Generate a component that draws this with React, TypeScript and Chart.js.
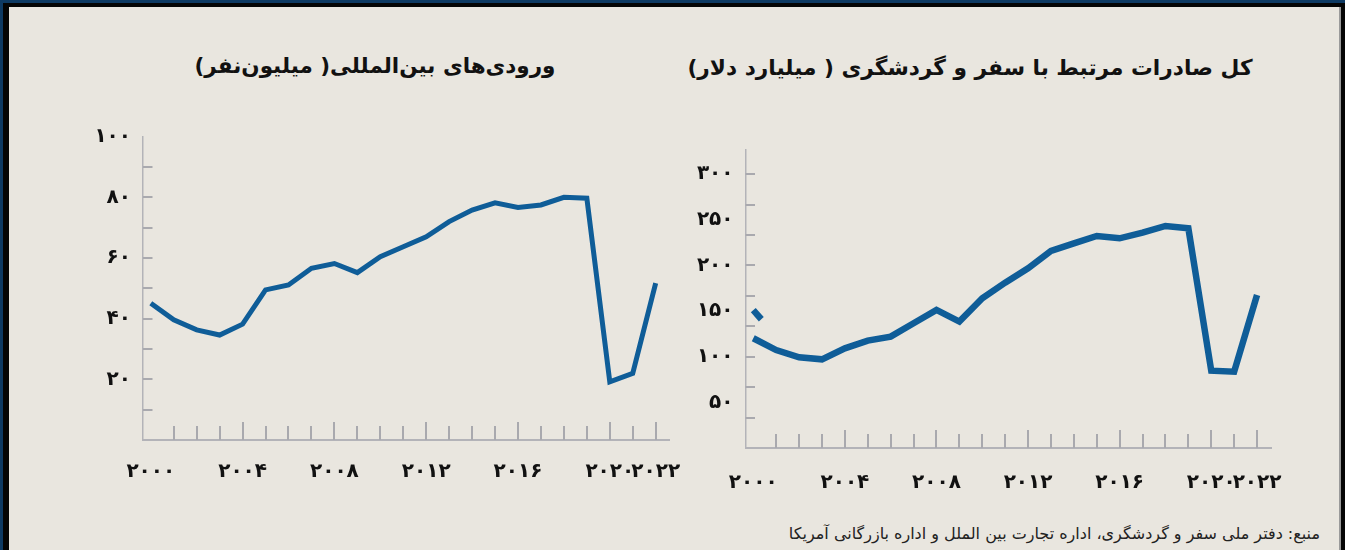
import React, { useEffect, useRef } from "react";
import { Chart, registerables } from "chart.js";

Chart.register(...registerables);

// ---------------- data ----------------
const years = [
  2000, 2001, 2002, 2003, 2004, 2005, 2006, 2007, 2008, 2009, 2010, 2011,
  2012, 2013, 2014, 2015, 2016, 2017, 2018, 2019, 2020, 2021, 2022,
];

// International arrivals (million people)
const arrivalsMillions = [
  45.1, 39.6, 36.3, 34.6, 38.2, 49.5, 51.1, 56.6, 58.2, 55.2, 60.4, 63.7,
  67.0, 72.0, 75.8, 78.2, 76.7, 77.5, 80.0, 79.7, 19.2, 22.0, 51.7,
];

// Total travel & tourism related exports (billion dollars)
const exportsBillions = [
  120.2, 107.3, 99.3, 97.1, 109.2, 117.6, 122.0, 136.6, 151.2, 138.4, 164.0,
  181.1, 196.8, 215.8, 224.2, 232.2, 229.7, 235.8, 243.2, 240.7, 84.7, 83.6,
  167.6,
];

// small stray stroke visible at the start of the exports line
const exportsStrayX = [2000, 2000.35];
const exportsStrayY = [151, 141];

const xLabelYears = [2000, 2004, 2008, 2012, 2016, 2020, 2022];
const xTickYears = [
  2001, 2002, 2003, 2004, 2005, 2006, 2007, 2008, 2009, 2010, 2011, 2012,
  2013, 2014, 2015, 2016, 2017, 2018, 2019, 2020, 2021, 2022,
];
const xMajorYears = [2004, 2008, 2012, 2016, 2020, 2022];

const arrivalsYLabels = [20, 40, 60, 80, 100];
const arrivalsYTicks = [10, 20, 30, 40, 50, 60, 70, 80, 90];

const exportsYLabels = [50, 100, 150, 200, 250, 300];
const exportsYTicks = [33.33, 66.67, 100, 133.33, 166.67, 200, 233.33, 266.67, 300];

const leftTitle = "ورودی‌های بین‌المللی( میلیون‌نفر)";
const rightTitle = "کل صادرات مرتبط با سفر و گردشگری ( میلیارد دلار)";
const sourceText =
  "منبع: دفتر ملی سفر و گردشگری، اداره تجارت بین الملل و اداره بازرگانی آمریکا";

// ---------------- helpers ----------------
const FA_DIGITS = "۰۱۲۳۴۵۶۷۸۹";
const fa = (v: number | string) =>
  String(v).replace(/\d/g, (d) => FA_DIGITS[Number(d)]);

const LINE_COLOR = "#0f5d98";
const AXIS_COLOR = "#b3b3b8";
const TICK_COLOR = "#a9a9ae";
const FONT = "'DejaVu Sans', sans-serif";

type Spec = {
  values: number[];
  stray?: { x: number[]; y: number[] };
  yMax: number;
  yLabels: number[];
  yTicks: number[];
  xMin: number;
  xMax: number;
  lineWidth: number;
  yAxisWidth: number;
  xAxisHeight: number;
  padTop: number;
  padRight: number;
  xLabelPad: number;
  left: number;
  top: number;
  width: number;
  height: number;
};

function LineChart({ spec }: { spec: Spec }) {
  const ref = useRef<HTMLCanvasElement | null>(null);

  useEffect(() => {
    if (!ref.current) return;

    const innerTicks = {
      id: "innerTicks",
      beforeDatasetsDraw(chart: any) {
        const { ctx, chartArea, scales } = chart;
        ctx.save();
        ctx.strokeStyle = TICK_COLOR;
        ctx.lineWidth = 2;
        ctx.beginPath();
        for (const v of spec.yTicks) {
          const py = Math.round(scales.y.getPixelForValue(v));
          ctx.moveTo(chartArea.left, py);
          ctx.lineTo(chartArea.left + 9.5, py);
        }
        for (const yr of xTickYears) {
          const px = Math.round(scales.x.getPixelForValue(yr));
          const len = xMajorYears.includes(yr) ? 18 : 14;
          ctx.moveTo(px, chartArea.bottom);
          ctx.lineTo(px, chartArea.bottom - len);
        }
        ctx.stroke();
        ctx.restore();
      },
    };

    const datasets: any[] = [
      {
        data: years.map((yr, i) => ({ x: yr, y: spec.values[i] })),
        borderColor: LINE_COLOR,
        borderWidth: spec.lineWidth,
        pointRadius: 0,
        tension: 0,
        fill: false,
      },
    ];
    if (spec.stray) {
      datasets.push({
        data: spec.stray.x.map((x, i) => ({ x, y: spec.stray!.y[i] })),
        borderColor: LINE_COLOR,
        borderWidth: spec.lineWidth,
        pointRadius: 0,
        tension: 0,
        fill: false,
      });
    }

    const chart = new Chart(ref.current, {
      type: "line",
      data: { datasets },
      options: {
        animation: false,
        responsive: false,
        devicePixelRatio: 1,
        layout: {
          padding: { top: spec.padTop, right: spec.padRight, left: 0, bottom: 0 },
        },
        plugins: {
          legend: { display: false },
          tooltip: { enabled: false },
          title: { display: false },
        },
        scales: {
          x: {
            type: "linear",
            min: spec.xMin,
            max: spec.xMax,
            afterBuildTicks: (s: any) => {
              s.ticks = xLabelYears.map((v) => ({ value: v }));
            },
            afterFit: (s: any) => {
              s.height = spec.xAxisHeight;
              s.paddingLeft = 0;
              s.paddingRight = 0;
            },
            grid: { display: false, drawTicks: false },
            border: { display: true, color: AXIS_COLOR, width: 2 },
            ticks: {
              autoSkip: false,
              maxRotation: 0,
              minRotation: 0,
              padding: spec.xLabelPad,
              color: "#111",
              font: { family: FONT, size: 20, weight: "bold" },
              callback: (v: any) => fa(v),
            },
          },
          y: {
            type: "linear",
            min: 0,
            max: spec.yMax,
            afterBuildTicks: (s: any) => {
              s.ticks = spec.yLabels.map((v) => ({ value: v }));
            },
            afterFit: (s: any) => {
              s.width = spec.yAxisWidth;
              s.paddingTop = 0;
              s.paddingBottom = 0;
            },
            grid: { display: false, drawTicks: false },
            border: { display: true, color: AXIS_COLOR, width: 1.5 },
            ticks: {
              padding: 12,
              color: "#111",
              font: { family: FONT, size: 20, weight: "bold" },
              callback: (v: any) => fa(v),
            },
          },
        },
      } as any,
      plugins: [innerTicks],
    });

    return () => chart.destroy();
  }, [spec]);

  return (
    <canvas
      ref={ref}
      width={spec.width}
      height={spec.height}
      style={{
        position: "absolute",
        left: spec.left,
        top: spec.top,
        width: spec.width,
        height: spec.height,
        display: "block",
      }}
    />
  );
}

const leftSpec: Spec = {
  values: arrivalsMillions,
  yMax: 100,
  yLabels: arrivalsYLabels,
  yTicks: arrivalsYTicks,
  xMin: 1999.66,
  xMax: 2022.58,
  lineWidth: 5,
  yAxisWidth: 83,
  xAxisHeight: 60,
  padTop: 26.7,
  padRight: 31,
  xLabelPad: 20,
  left: 60,
  top: 110,
  width: 640,
  height: 390,
};

const rightSpec: Spec = {
  values: exportsBillions,
  stray: { x: exportsStrayX, y: exportsStrayY },
  yMax: 326.4,
  yLabels: exportsYLabels,
  yTicks: exportsYTicks,
  xMin: 1999.66,
  xMax: 2022.64,
  lineWidth: 6.5,
  yAxisWidth: 85.5,
  xAxisHeight: 62,
  padTop: 30,
  padRight: 28.3,
  xLabelPad: 23,
  left: 660,
  top: 120,
  width: 640,
  height: 390,
};

export default function App() {
  return (
    <div
      style={{
        position: "absolute",
        left: 0,
        top: 0,
        width: 1345,
        height: 550,
        overflow: "hidden",
        background: "#0e3a63",
      }}
    >
      <div
        style={{
          position: "absolute",
          left: 3,
          top: 2.5,
          width: 1342,
          height: 548,
          background: "#050505",
        }}
      />
      <div
        style={{
          position: "absolute",
          left: 9,
          top: 7,
          width: 1330,
          height: 543,
          background: "#e9e6df",
        }}
      />
      <div
        style={{
          position: "absolute",
          left: 1339,
          top: 7,
          width: 2,
          height: 543,
          background: "#9a9a9a",
        }}
      />
      <div
        dir="rtl"
        style={{
          position: "absolute",
          left: 125,
          top: 51,
          width: 500,
          textAlign: "center",
          fontFamily: FONT,
          fontWeight: "bold",
          fontSize: 21.5,
          lineHeight: "30px",
          color: "#111",
          whiteSpace: "nowrap",
        }}
      >
        {leftTitle}
      </div>
      <div
        dir="rtl"
        style={{
          position: "absolute",
          left: 620,
          top: 53,
          width: 700,
          textAlign: "center",
          fontFamily: FONT,
          fontWeight: "bold",
          fontSize: 21.7,
          lineHeight: "30px",
          color: "#111",
          whiteSpace: "nowrap",
        }}
      >
        {rightTitle}
      </div>
      <LineChart spec={leftSpec} />
      <LineChart spec={rightSpec} />
      <div
        dir="rtl"
        style={{
          position: "absolute",
          right: 25,
          top: 523,
          fontFamily: FONT,
          fontSize: 16,
          lineHeight: "22px",
          color: "#222",
          whiteSpace: "nowrap",
        }}
      >
        {sourceText}
      </div>
    </div>
  );
}
